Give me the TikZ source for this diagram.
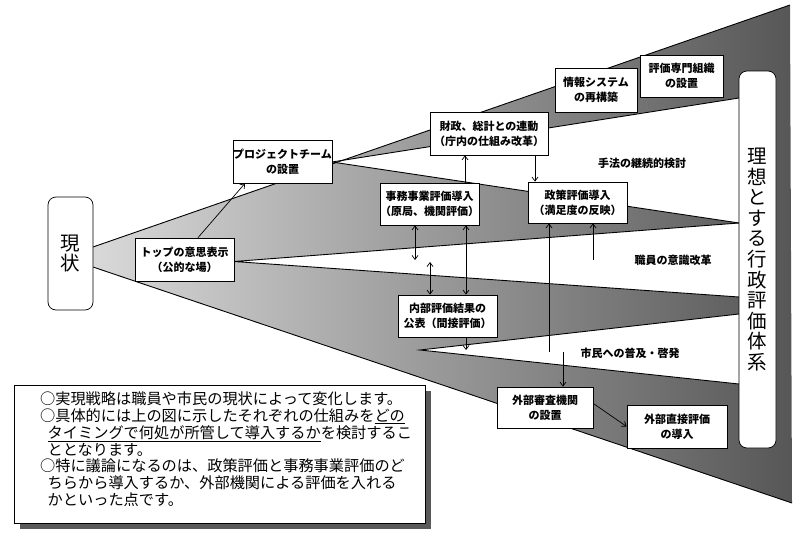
\documentclass[tikz,border=0pt]{standalone}
\usepackage{fontspec}
\setmainfont{Noto Sans CJK JP}
\usetikzlibrary{arrows.meta,shadows}

\begin{document}
\begin{tikzpicture}[x=1pt, y=-1pt, line width=0.9pt, >={Straight Barb[length=4pt,width=6pt]},
    font=\fontsize{11}{15}\selectfont\bfseries, align=center,
    box/.style={draw, fill=white, line width=0.7pt, inner sep=0pt, minimum width=99pt, minimum height=43pt},
    bar/.style={box, rounded corners=8pt, font=\fontsize{19.5}{20.6}\selectfont\mdseries},
    arr/.style={line width=0.7pt}]
  \useasboundingbox (0,0) rectangle (800,543);

  % fan from the present state to the ideal system
  \coordinate (fanN) at (93,247);
  \coordinate (fanS) at (93,267);
  \coordinate (cornerNE) at (790,5);
  \coordinate (cornerSE) at (792,503);
  \shade[left color=black!15, right color=black!66] (fanN) -- (cornerNE) -- (cornerSE) -- (fanS) -- cycle;

  % white gaps
  \coordinate (pjApex) at (332,162);
  \coordinate (tpApex) at (234,261.5);
  \coordinate (nbApex) at (420,350);
  \coordinate (r1) at (739,98);
  \coordinate (r2) at (739,223);
  \coordinate (r3) at (739,297);
  \coordinate (r4) at (739,314);
  \coordinate (r5) at (739,384);
  \fill[white] (pjApex) -- (r1) -- (r2) -- cycle;
  \fill[white] (tpApex) -- (r2) -- (r3) -- cycle;
  \fill[white] (nbApex) -- (r4) -- (r5) -- cycle;
  \draw (r1) -- (pjApex) -- (r2);
  \draw (r2) -- (tpApex) -- (r3);
  \draw (r4) -- (nbApex) -- (r5);
  \draw (fanN) -- (cornerNE);
  \draw (fanS) -- (cornerSE);

  % boxes
  \node (genjo) [bar, minimum width=45pt, minimum height=113pt] at (70.5,253.5) {現\\状};
  \node (riso) [bar, minimum width=37pt, minimum height=377pt] at (757.5,259.5) {理\\想\\と\\す\\る\\行\\政\\評\\価\\体\\系};
  \node (top) [box] at (184.5,259.5) {トップの意思表示\\（公的な場）};
  \node (proj) [box] at (282.5,161.5) {プロジェクトチーム\\の設置};
  \node (zaisei) [box, minimum width=118pt] at (489,133.5) {財政、総計との連動\\（庁内の仕組み改革）};
  \node (jimu) [box, minimum width=97pt, minimum height=42pt] at (429.5,204) {事務事業評価導入\\（原局、機関評価）};
  \node (seisaku) [box, minimum height=41pt] at (577.5,202.5) {政策評価導入\\（満足度の反映）};
  \node (joho) [box, minimum width=82pt, minimum height=44pt] at (596,90) {情報システム\\の再構築};
  \node (senmon) [box, minimum width=83pt, minimum height=42pt] at (681.5,76) {評価専門組織\\の設置};
  \node (naibu) [box, minimum height=42pt] at (447.5,316) {内部評価結果の\\公表（間接評価）};
  \node (gaibu) [box, minimum width=96pt, minimum height=41pt] at (545,407.5) {外部審査機関\\の設置};
  \node (choku) [box, minimum width=100pt] at (677,426.5) {外部直接評価\\の導入};

  % labels in the gaps
  \node (hoho) at (642,163) {手法の継続的検討};
  \node (shokuin) at (673,260) {職員の意識改革};
  \node (shimin) at (630,353) {市民への普及・啓発};

  % arrows
  \coordinate (gapA) at (415,260);
  \coordinate (gapB) at (430,262);
  \coordinate (nbTip) at (466,350);
  \coordinate (citA) at (549,352);
  \coordinate (citB) at (563,352);
  \coordinate (staffA) at (593,260);
  \draw [arr,->] ([xshift=13.5pt]top.north) -- ([xshift=-37.5pt]proj.south);
  \draw [arr,->] ([xshift=35.5pt]jimu.north) -- ([xshift=35.5pt]jimu.north |- zaisei.south);
  \draw [arr,->] ([xshift=46pt]zaisei.south) -- ([xshift=46pt]zaisei.south |- seisaku.north);
  \draw [arr,<->] ([xshift=-14.5pt]jimu.south) -- (gapA);
  \draw [arr,<->] (gapB) -- ([xshift=-17.5pt]naibu.north);
  \draw [arr,<->] ([xshift=36.5pt]jimu.south) -- ([xshift=36.5pt]jimu.south |- naibu.north);
  \draw [arr,->] ([xshift=18.5pt]naibu.south) -- (nbTip);
  \draw [arr,->] (citA) -- ([xshift=-28.5pt]seisaku.south);
  \draw [arr,->] (staffA) -- ([xshift=15.5pt]seisaku.south);
  \draw [arr,->] (citB) -- ([xshift=18pt]gaibu.north);
  \draw [arr,->] ([yshift=4pt]gaibu.east) -- (choku.west);

  % note
  \node (note) [box, minimum width=411pt, minimum height=138pt,
    drop shadow={shadow xshift=6pt, shadow yshift=-6pt, fill=black!65, opacity=1}] at (219.5,454) {};
  \node (notetext) [anchor=north west, align=left, inner sep=0pt, font=\fontsize{15.2}{16.7}\selectfont\mdseries]
    at ([xshift=26pt,yshift=-7pt]note.north west)
    {○実現戦略は職員や市民の現状によって変化します。\\
     ○具体的には上の図に示したそれぞれの仕組みを\underline{どの}\\
     \hspace*{0.5em}\underline{タイミングで何処が所管して導入するか}を検討するこ\\
     \hspace*{0.5em}ととなります。\\
     ○特に議論になるのは、政策評価と事務事業評価のど\\
     \hspace*{0.5em}ちらから導入するか、外部機関による評価を入れる\\
     \hspace*{0.5em}かといった点です。};
\end{tikzpicture}
\end{document}
